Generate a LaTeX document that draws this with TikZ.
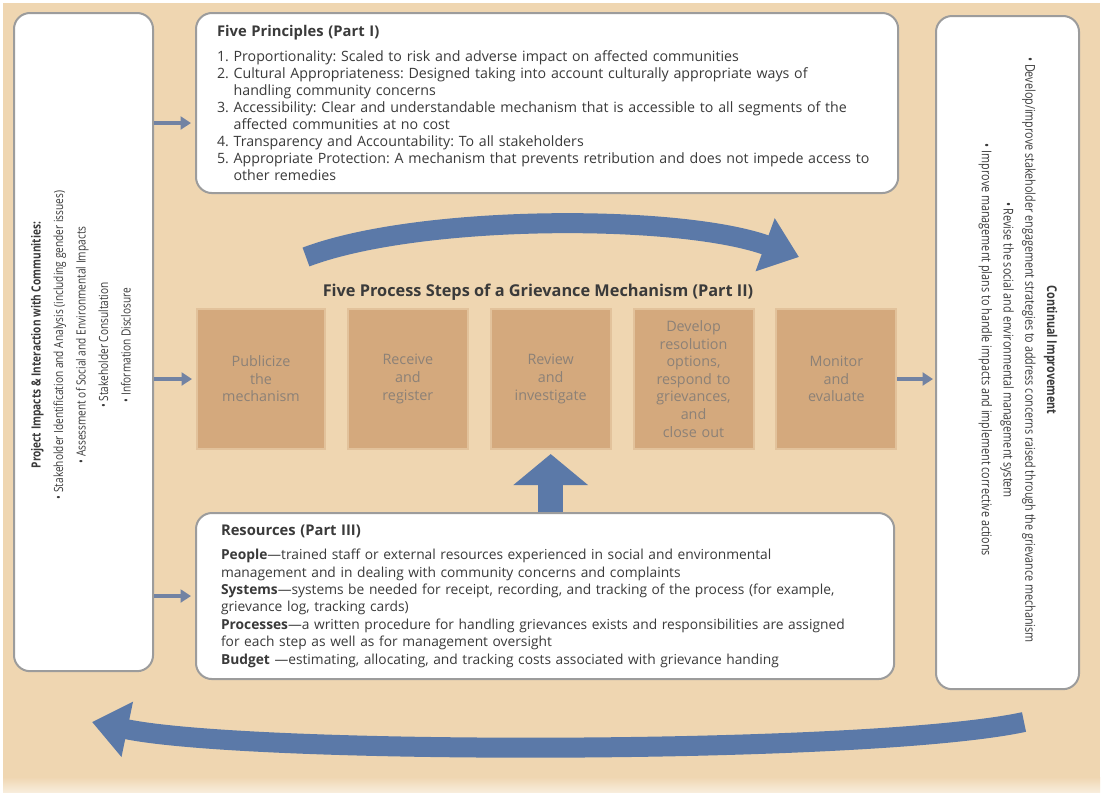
\documentclass[tikz,border=0pt]{standalone}
\usepackage{fontspec}
\setmainfont{Open Sans}
\newfontfamily\narrowsans[FakeStretch=0.8]{Open Sans}
\usetikzlibrary{arrows.meta, positioning, calc}
\frenchspacing

\definecolor{sandbg}{HTML}{EFD6B1}
\definecolor{stepfill}{HTML}{D4A97D}
\definecolor{stepline}{HTML}{E2C29B}
\definecolor{steptext}{HTML}{8C8177}
\definecolor{arrowblue}{HTML}{5B79A8}
\definecolor{feedblue}{HTML}{7283A3}
\definecolor{boxline}{HTML}{9C9C9C}
\definecolor{bodytext}{HTML}{3A3A3A}

\tikzset{
    panel/.style={draw=boxline, line width=0.05cm, fill=white, rounded corners=0.4cm},
    stepbox/.style={fill=stepfill, draw=stepline, line width=0.05cm, minimum width=3cm,
        minimum height=3.5cm, text width=2.8cm, align=center, text=steptext, inner sep=0pt,
        font=\fontsize{10.2}{12.5}\selectfont},
    feed/.style={draw=feedblue, line width=0.1cm, -{Triangle[width=0.32cm, length=0.26cm]}},
    bigarrow/.style={draw=arrowblue, line width=0.5cm, -{Triangle[width=1.35cm, length=0.9cm]}},
    uparrow/.style={draw=arrowblue, line width=0.625cm, -{Triangle[width=1.825cm, length=0.775cm]}},
}

\begin{document}
\begin{tikzpicture}[x=0.025cm, y=-0.025cm, node distance=0.52cm]
    % background
    \fill[white] (0,0) rectangle (1104,796);
    \fill[sandbg] (3,3) rectangle (1100,778);
    \shade[top color=sandbg, bottom color=sandbg!45!white] (3,777) rectangle (1100,792);

    % side panels
    \node[panel, anchor=north west, minimum width=3.475cm, minimum height=16.45cm] (impacts) at (13,12) {};
    \node[font=\narrowsans\fontsize{9}{16}\selectfont, rotate=90, align=center, text=bodytext] (impactstext) at (81,345) {
        \textbf{Project Impacts \& Interaction with Communities:}\\
        • Stakeholder Identification and Analysis (including gender issues)\\
        • Assessment of Social and Environmental Impacts\\
        • Stakeholder Consultation\\
        • Information Disclosure
    };

    \node[panel, anchor=north west, minimum width=3.575cm, minimum height=16.825cm] (improve) at (935,15) {};
    \node[font=\narrowsans\fontsize{9.6}{15.5}\selectfont, rotate=-90, align=center, text=bodytext] (improvetext) at (1018,350) {
        \textbf{Continual Improvement}\\
        • Develop/improve stakeholder engagement strategies to address concerns raised through the grievance mechanism\\
        • Revise the social and environmental management system\\
        • Improve management plans to handle impacts and implement corrective actions
    };

    % part I
    \node[panel, anchor=north west, minimum width=17.55cm, minimum height=4.5cm, text width=16.5cm,
        inner xsep=0.525cm, align=left, text=bodytext, font=\fontsize{10.1}{12.1}\selectfont] (principles) at (195,12) {
        {\fontsize{10.5}{12}\selectfont\bfseries Five Principles (Part I)}\\[5pt]
        1. Proportionality: Scaled to risk and adverse impact on affected communities\\
        2. Cultural Appropriateness: Designed taking into account culturally appropriate ways of\\
        \hphantom{2. }handling community concerns\\
        3. Accessibility: Clear and understandable mechanism that is accessible to all segments of the\\
        \hphantom{3. }affected communities at no cost\\
        4. Transparency and Accountability: To all stakeholders\\
        5. Appropriate Protection: A mechanism that prevents retribution and does not impede access to\\
        \hphantom{5. }other remedies
    };

    % part II
    \node[stepbox, anchor=north west, minimum width=3.2cm, text width=3cm] (publicize) at (196,308) {Publicize\\the\\mechanism};
    \node[stepbox, right=of publicize] (receive) {Receive\\and\\register};
    \node[stepbox, right=of receive] (review) {Review\\and\\investigate};
    \node[stepbox, right=of review] (develop) {Develop\\resolution\\options,\\respond to\\grievances,\\and\\close out};
    \node[stepbox, right=of develop] (monitor) {Monitor\\and\\evaluate};
    \node[font=\fontsize{11.6}{13}\selectfont\bfseries, text=bodytext] (stepstitle) at (538,292) {Five Process Steps of a Grievance Mechanism (Part II)};

    % part III
    \node[panel, anchor=north west, minimum width=17.45cm, minimum height=4.15cm, text width=16.2cm,
        inner xsep=0.625cm, align=left, text=bodytext, font=\fontsize{9.8}{12.4}\selectfont] (resources) at (195,512) {
        {\fontsize{10.5}{12}\selectfont\bfseries Resources (Part III)}\\[5pt]
        \textbf{People}—trained staff or external resources experienced in social and environmental\\
        management and in dealing with community concerns and complaints\\
        \textbf{Systems}—systems be needed for receipt, recording, and tracking of the process (for example,\\
        grievance log, tracking cards)\\
        \textbf{Processes}—a written procedure for handling grievances exists and responsibilities are assigned\\
        for each step as well as for management oversight\\
        \textbf{Budget} —estimating, allocating, and tracking costs associated with grievance handing
    };

    % feeds
    \coordinate (in1) at ($(principles.west)+(-4,20)$);
    \draw[feed] (impacts.east |- in1) -- (in1);
    \draw[feed] (impacts.east |- publicize.west) -- ([xshift=-0.1cm]publicize.west);
    \draw[feed] (impacts.east |- resources.west) -- ([xshift=-0.1cm]resources.west);
    \draw[feed] (monitor.east) -- ([xshift=-0.05cm]improve.west |- monitor.east);

    % cycle arrows
    \coordinate (toptail) at (306,257);
    \coordinate (tophead) at (799,257);
    \draw[bigarrow] (toptail) .. controls (420,214) and (680,214) .. (tophead);
    \coordinate (bottail) at (1024,722);
    \coordinate (bothead) at (92,722);
    \draw[bigarrow] (bottail) .. controls (870,755) and (250,755) .. (bothead);
    \draw[uparrow, shorten >=0.1cm] (review.south |- resources.north) -- (review.south);
\end{tikzpicture}
\end{document}
